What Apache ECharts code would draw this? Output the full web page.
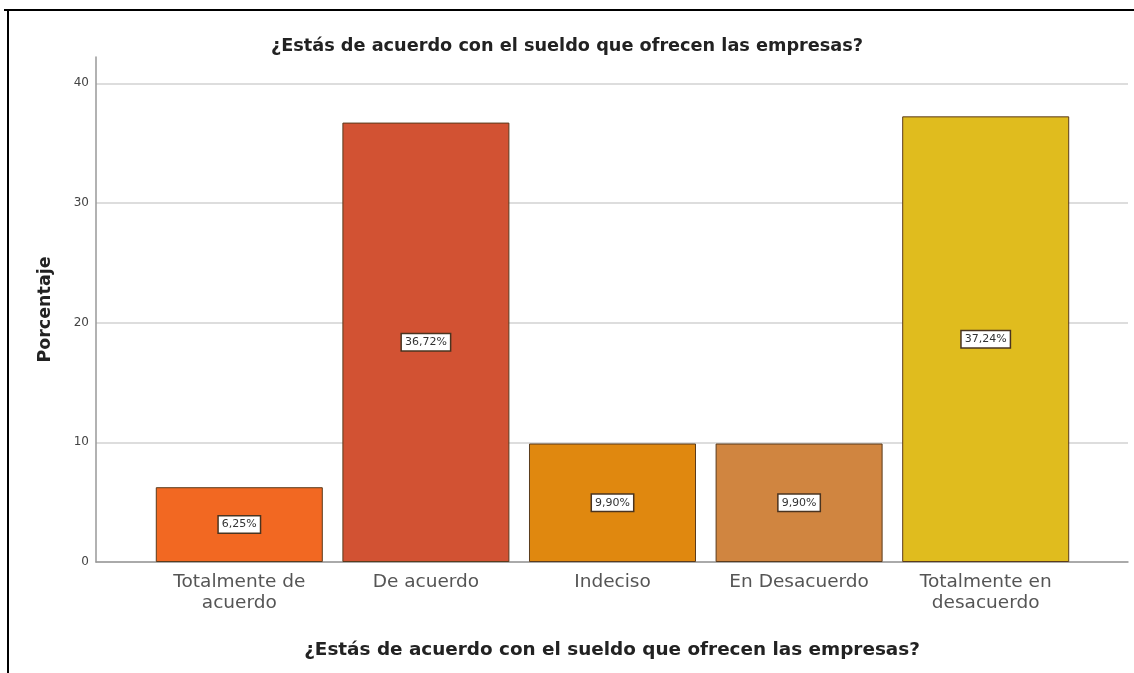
<!DOCTYPE html>
<html>
<head>
<meta charset="utf-8">
<style>html,body{margin:0;padding:0;background:#fff;}#c{width:1134px;height:673px;}</style>
<script src="https://cdn.jsdelivr.net/npm/echarts@6/dist/echarts.min.js"></script>
</head>
<body>
<div id="c"></div>
<script>
var titleText = '¿Estás de acuerdo con el sueldo que ofrecen las empresas?';
var categories = ['Totalmente de\nacuerdo', 'De acuerdo', 'Indeciso', 'En Desacuerdo', 'Totalmente en\ndesacuerdo'];
var values = [6.25, 36.72, 9.90, 9.90, 37.24];
var barColors = ['#F26822', '#D25233', '#E0880F', '#D08540', '#E0BC1E'];
var yTicks = [0, 10, 20, 30, 40];
var yMax = 42.2;

var FONT = '"DejaVu Sans", "Liberation Sans", Arial, sans-serif';
var chart = echarts.init(document.getElementById('c'), null, {renderer: 'canvas'});
chart.setOption({
  backgroundColor: '#fff',
  animation: false,
  title: {
    text: titleText, left: 'center', top: 32,
    textStyle: {fontFamily: FONT, fontSize: 17.7, fontWeight: 'bold', color: '#222'}
  },
  graphic: [
    {type: 'line', shape: {x1: 4, y1: 10, x2: 1134, y2: 10}, style: {stroke: '#000', lineWidth: 2}},
    {type: 'line', shape: {x1: 8, y1: 10, x2: 8, y2: 673}, style: {stroke: '#000', lineWidth: 2}}
  ],
  grid: [
    {left: 96, right: 6, top: 57, bottom: 111},
    {left: 146, right: 55, top: 57, bottom: 111}
  ],
  xAxis: [
    {type: 'category', gridIndex: 0, data: [''], axisLabel: {show: false}, axisTick: {show: false},
     axisLine: {lineStyle: {color: '#999', width: 1.5}},
     name: titleText, nameLocation: 'middle', nameGap: 79,
     nameTextStyle: {fontFamily: FONT, fontSize: 18.4, fontWeight: 'bold', color: '#222'}},
    {type: 'category', gridIndex: 1, data: categories, axisTick: {show: false}, axisLine: {show: false},
     axisLabel: {fontFamily: FONT, fontSize: 18.5, color: '#555', margin: 10, lineHeight: 21, interval: 0}}
  ],
  yAxis: [
    {type: 'value', gridIndex: 0, min: 0, max: yMax, interval: 10,
     axisLine: {show: true, lineStyle: {color: '#999', width: 1.5}}, axisTick: {show: false},
     axisLabel: {fontFamily: FONT, fontSize: 12, color: '#444', margin: 7,
       formatter: function (v) { return yTicks.indexOf(v) >= 0 ? String(v) : ''; }},
     splitLine: {show: true, lineStyle: {color: ['#ddd', '#ddd', '#ddd', '#ddd', '#ddd', 'rgba(0,0,0,0)'], width: 2}},
     name: 'Porcentaje', nameLocation: 'middle', nameGap: 42,
     nameTextStyle: {fontFamily: FONT, fontSize: 17.5, fontWeight: 'bold', color: '#222'}},
    {type: 'value', gridIndex: 1, min: 0, max: yMax, show: false, splitLine: {show: false}}
  ],
  series: [{
    type: 'bar', xAxisIndex: 1, yAxisIndex: 1,
    barCategoryGap: '10.5%',
    data: values.map(function (v, i) {
      return {value: v, itemStyle: {color: barColors[i]}};
    }),
    itemStyle: {borderColor: '#5a3b1c', borderWidth: 1},
    label: {
      show: true, position: 'inside',
      formatter: function (p) { return p.value.toFixed(2).replace('.', ',') + '%'; },
      fontFamily: FONT, fontSize: 11, color: '#333',
      backgroundColor: '#fff', borderColor: '#4a3420', borderWidth: 1.5, padding: [3, 3, 2, 3]
    }
  }]
});
</script>
</body>
</html>
